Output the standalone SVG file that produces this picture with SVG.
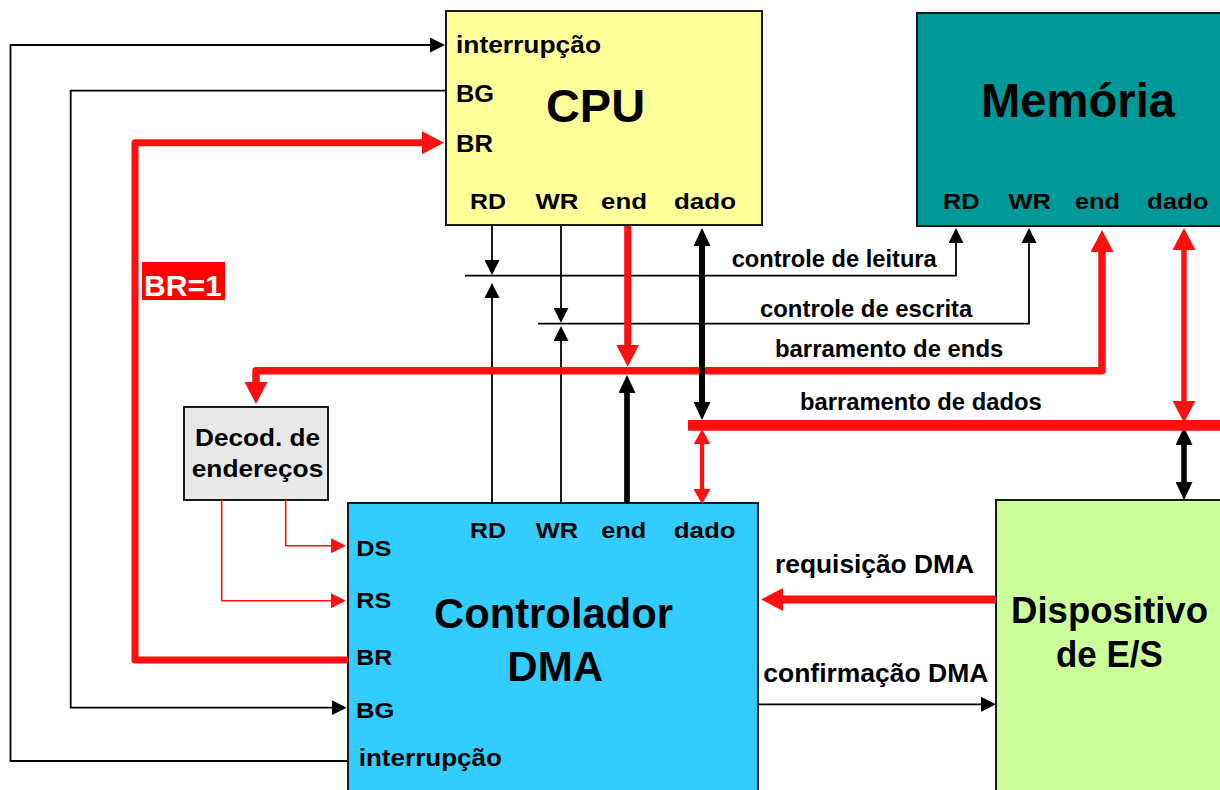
<svg xmlns="http://www.w3.org/2000/svg" width="1220" height="790" viewBox="0 0 1220 790">
<style>
text{font-family:"Liberation Sans",Arial,sans-serif;font-weight:bold;fill:#000}
.box{stroke:#1a1a1a;stroke-width:2}
.p{font-size:22.5px}
.s{font-size:24px}
.bus{font-size:23.5px}
.k{fill:none;stroke:#000;stroke-width:1.8}
.kb{fill:none;stroke:#000}
.r{fill:none;stroke:#FF1010;stroke-linejoin:round}
</style>
<defs>
<marker id="ak" markerUnits="userSpaceOnUse" markerWidth="15" markerHeight="15" refX="1" refY="7.5" orient="auto-start-reverse" viewBox="0 0 15 15"><path d="M0,0L15,7.5L0,15z" fill="#000"/></marker>
<marker id="akb" markerUnits="userSpaceOnUse" markerWidth="18" markerHeight="17" refX="1" refY="8.5" orient="auto-start-reverse" viewBox="0 0 18 17"><path d="M0,0L18,8.5L0,17z" fill="#000"/></marker>
<marker id="ar" markerUnits="userSpaceOnUse" markerWidth="22" markerHeight="23" refX="1" refY="11.5" orient="auto-start-reverse" viewBox="0 0 22 23"><path d="M0,0L22,11.5L0,23z" fill="#FF1010"/></marker>
<marker id="ars" markerUnits="userSpaceOnUse" markerWidth="15" markerHeight="17" refX="1" refY="8.5" orient="auto-start-reverse" viewBox="0 0 15 17"><path d="M0,0L15,8.5L0,17z" fill="#FF1010"/></marker>
<marker id="art" markerUnits="userSpaceOnUse" markerWidth="15" markerHeight="15" refX="1" refY="7.5" orient="auto-start-reverse" viewBox="0 0 15 15"><path d="M0,0L15,7.5L0,15z" fill="#FF1010"/></marker>
</defs>
<rect width="1220" height="790" fill="#fff"/>

<g id="cpu">
<rect class="box" x="446" y="11" width="316" height="214" fill="#FFFF99"/>
<text class="s" x="456" y="53" textLength="145" lengthAdjust="spacingAndGlyphs">interrupção</text>
<text class="s" x="456" y="101.5" font-size="25" textLength="38" lengthAdjust="spacingAndGlyphs">BG</text>
<text class="s" x="456" y="151.5" font-size="25" textLength="37" lengthAdjust="spacingAndGlyphs">BR</text>
<text x="546" y="121.5" font-size="46" textLength="99" lengthAdjust="spacingAndGlyphs">CPU</text>
<text class="p" x="470" y="209" textLength="36" lengthAdjust="spacingAndGlyphs">RD</text>
<text class="p" x="535.5" y="209" textLength="43" lengthAdjust="spacingAndGlyphs">WR</text>
<text class="p" x="601" y="209" textLength="46" lengthAdjust="spacingAndGlyphs">end</text>
<text class="p" x="674" y="209" textLength="62" lengthAdjust="spacingAndGlyphs">dado</text>
</g>

<g id="memoria">
<rect class="box" x="917" y="13" width="320" height="213" fill="#009999"/>
<text x="981" y="116.5" font-size="48" textLength="194" lengthAdjust="spacingAndGlyphs">Memória</text>
<text class="p" x="943" y="208.5" textLength="36.5" lengthAdjust="spacingAndGlyphs">RD</text>
<text class="p" x="1008.5" y="208.5" textLength="42.5" lengthAdjust="spacingAndGlyphs">WR</text>
<text class="p" x="1075" y="208.5" textLength="45" lengthAdjust="spacingAndGlyphs">end</text>
<text class="p" x="1147" y="208.5" textLength="61.5" lengthAdjust="spacingAndGlyphs">dado</text>
</g>

<g id="decod">
<rect class="box" x="184" y="407" width="144" height="93" fill="#E8E8E8"/>
<text class="s" x="195" y="446" textLength="125" lengthAdjust="spacingAndGlyphs">Decod. de</text>
<text class="s" x="191.7" y="477.3" textLength="131.6" lengthAdjust="spacingAndGlyphs">endereços</text>
</g>

<g id="dma">
<rect class="box" x="348" y="503" width="410" height="300" fill="#33CCFF"/>
<text class="p" x="470" y="538.3" textLength="36" lengthAdjust="spacingAndGlyphs">RD</text>
<text class="p" x="535.7" y="538.3" textLength="42.3" lengthAdjust="spacingAndGlyphs">WR</text>
<text class="p" x="601.3" y="538.3" textLength="45" lengthAdjust="spacingAndGlyphs">end</text>
<text class="p" x="673.7" y="538.3" textLength="62" lengthAdjust="spacingAndGlyphs">dado</text>
<text class="p" x="356.3" y="555.7" textLength="35" lengthAdjust="spacingAndGlyphs">DS</text>
<text class="p" x="356.3" y="608.3" textLength="35" lengthAdjust="spacingAndGlyphs">RS</text>
<text class="p" x="356.3" y="665" textLength="36" lengthAdjust="spacingAndGlyphs">BR</text>
<text class="p" x="356" y="718.3" textLength="38.3" lengthAdjust="spacingAndGlyphs">BG</text>
<text class="s" x="358.7" y="766" textLength="143.3" lengthAdjust="spacingAndGlyphs">interrupção</text>
<text x="434" y="628.3" font-size="42" textLength="239" lengthAdjust="spacingAndGlyphs">Controlador</text>
<text x="507.3" y="681" font-size="42" textLength="95.7" lengthAdjust="spacingAndGlyphs">DMA</text>
</g>

<g id="dispositivo">
<rect class="box" x="996" y="500" width="240" height="300" fill="#CCFF99"/>
<text x="1011" y="623.3" font-size="37" textLength="197" lengthAdjust="spacingAndGlyphs">Dispositivo</text>
<text x="1056" y="667.3" font-size="37" textLength="106.7" lengthAdjust="spacingAndGlyphs">de E/S</text>
</g>

<g id="connectors">
<path class="k" d="M348,761H10.5V45H431" marker-end="url(#ak)"/>
<path class="k" d="M446,90.7H70.7V707.7H332.7" marker-end="url(#ak)"/>
<path class="r" stroke-width="7" d="M348,660H135V142.7H423" marker-end="url(#ar)"/>
<rect x="142" y="262" width="83" height="38" fill="#FF0000"/>
<text x="144" y="296" font-size="30" textLength="77.7" lengthAdjust="spacingAndGlyphs" style="fill:#fff">BR=1</text>

<path class="k" d="M492,226V261" marker-end="url(#ak)"/>
<path class="k" d="M492,503V297" marker-end="url(#ak)"/>
<path class="k" d="M561,226V308.7" marker-end="url(#ak)"/>
<path class="k" d="M561,503V340" marker-end="url(#ak)"/>
<path class="k" d="M465,275.7H956V242" marker-end="url(#ak)"/>
<path class="k" d="M538,323.7H1029V242" marker-end="url(#ak)"/>
<text class="bus" x="731.7" y="266.7" textLength="205" lengthAdjust="spacingAndGlyphs">controle de leitura</text>
<text class="bus" x="760" y="316.7" textLength="212.3" lengthAdjust="spacingAndGlyphs">controle de escrita</text>

<path class="r" stroke-width="7" d="M627.7,226V345.7" marker-end="url(#ar)"/>
<path class="r" stroke-width="7.5" d="M256,383V370.7H1102V251" marker-start="url(#ar)" marker-end="url(#ar)"/>
<text class="bus" x="775" y="356.7" textLength="228.3" lengthAdjust="spacingAndGlyphs">barramento de ends</text>
<path class="kb" stroke-width="5.7" d="M627,503V392" marker-end="url(#akb)"/>

<path class="kb" stroke-width="6" d="M702,245V403" marker-start="url(#akb)" marker-end="url(#akb)"/>
<path class="kb" stroke-width="5.5" d="M1184,444V483" marker-start="url(#akb)" marker-end="url(#akb)"/>
<path class="r" stroke-width="5.5" d="M1184,249V401.7" marker-start="url(#ar)" marker-end="url(#ar)"/>
<path class="r" stroke-width="10.7" d="M688,425.3H1220"/>
<path class="r" stroke-width="4.3" d="M702,443.3V490" marker-start="url(#ars)" marker-end="url(#ars)"/>
<text class="bus" x="800" y="410" textLength="241.7" lengthAdjust="spacingAndGlyphs">barramento de dados</text>

<path class="r" stroke-width="1.6" d="M285.7,500V545.7H332" marker-end="url(#art)"/>
<path class="r" stroke-width="1.6" d="M221.7,500V600.7H332" marker-end="url(#art)"/>

<path class="r" stroke-width="8" d="M996,599.5H782" marker-end="url(#ar)"/>
<text x="775" y="573.3" font-size="25" textLength="199" lengthAdjust="spacingAndGlyphs">requisição DMA</text>
<path class="k" d="M759,704.3H982" marker-end="url(#ak)"/>
<text x="763.3" y="681.7" font-size="25" textLength="225" lengthAdjust="spacingAndGlyphs">confirmação DMA</text>
</g>
</svg>
